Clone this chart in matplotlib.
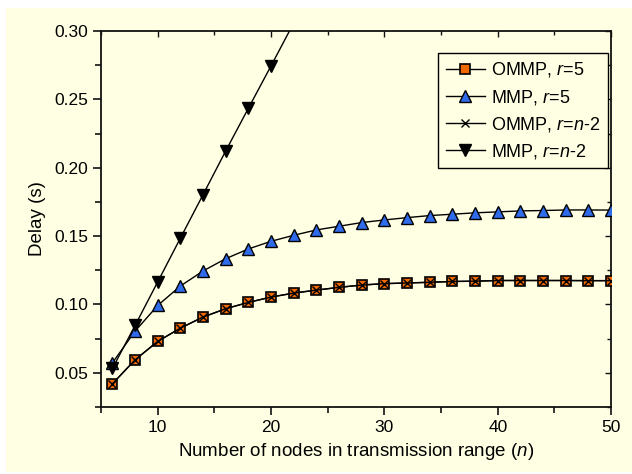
import numpy as np
import matplotlib.pyplot as plt
from matplotlib.patches import Rectangle
from matplotlib.ticker import MultipleLocator

plt.rcParams['font.family'] = ['Liberation Sans', 'DejaVu Sans']
plt.rcParams['mathtext.fontset'] = 'custom'
plt.rcParams['mathtext.rm'] = 'Liberation Sans'
plt.rcParams['mathtext.it'] = 'Liberation Sans:italic'

# number of nodes in transmission range
n = np.arange(6, 51, 2)

ommp_r5 = [0.042, 0.0595, 0.073, 0.0827, 0.0908, 0.0969, 0.1015, 0.1054,
           0.1083, 0.1105, 0.1125, 0.1142, 0.1152, 0.1157, 0.1162, 0.1168,
           0.1170, 0.1175, 0.1175, 0.1175, 0.1175, 0.1174, 0.1174]
mmp_r5 = [0.0573, 0.0805, 0.0993, 0.1135, 0.1245, 0.1335, 0.1406, 0.1462,
          0.1506, 0.1545, 0.1572, 0.1599, 0.1618, 0.1635, 0.1650, 0.1660,
          0.1670, 0.1677, 0.1684, 0.1687, 0.1691, 0.1691, 0.1690]
ommp_rn2 = ommp_r5
n_mmp_rn2 = np.arange(6, 23, 2)
mmp_rn2 = [0.0532, 0.0847, 0.1166, 0.1486, 0.1804, 0.2124, 0.2436, 0.2746,
           0.3060]

cream = '#FFFFE3'
fig = plt.figure(figsize=(6.32, 4.74), dpi=100, facecolor='white')
fig.patches.append(Rectangle((6 / 632, 0.004), 1, 0.98, transform=fig.transFigure,
                             facecolor=cream, edgecolor='none', zorder=-10))
ax = fig.add_axes([0.16, 0.1414, 0.807, 0.7932])
ax.set_facecolor(cream)

ax.plot(n, ommp_r5, '-s', color='black', lw=1, ms=6.5, mfc='#F06A00',
        mec='black', mew=1.2, label='OMMP, $r$=5', zorder=3)
ax.plot(n, mmp_r5, '-^', color='black', lw=1, ms=9, mfc='#2F6BEA',
        mec='black', mew=1, label='MMP, $r$=5', zorder=3)
ax.plot(n, ommp_rn2, '-x', color='black', lw=1, ms=5.5, mew=1,
        label='OMMP, $r$=$n$-2', zorder=4)
ax.plot(n_mmp_rn2, mmp_rn2, '-v', color='black', lw=1, ms=9, mfc='black',
        mec='black', label='MMP, $r$=$n$-2', zorder=3)

ax.set_xlim(5, 50)
ax.set_ylim(0.025, 0.30)
ax.xaxis.set_major_locator(MultipleLocator(10))
ax.xaxis.set_minor_locator(MultipleLocator(5))
ax.yaxis.set_major_locator(MultipleLocator(0.05))
ax.yaxis.set_minor_locator(MultipleLocator(0.025))
ax.yaxis.set_major_formatter(plt.FormatStrFormatter('%.2f'))

for s in ax.spines.values():
    s.set_linewidth(1.3)
    s.set_color('#111111')
ax.tick_params(which='both', direction='out', labelsize=12.5, width=1.2,
               colors='#111111', labelcolor='black')
ax.tick_params(which='major', length=6)
ax.tick_params(which='minor', length=4)

# inward ticks on top and right, no labels
top = ax.secondary_xaxis('top')
right = ax.secondary_yaxis('right')
top.xaxis.set_major_locator(MultipleLocator(10))
top.xaxis.set_minor_locator(MultipleLocator(5))
right.yaxis.set_major_locator(MultipleLocator(0.05))
right.yaxis.set_minor_locator(MultipleLocator(0.025))
for sec in (top, right):
    sec.spines[:].set_visible(False)
    sec.tick_params(which='both', direction='in', width=1, colors='#111111',
                    labelleft=False, labelright=False, labeltop=False,
                    labelbottom=False)
    sec.tick_params(which='major', length=4)
    sec.tick_params(which='minor', length=3)

ax.set_xlabel('Number of nodes in transmission range ($n$)', fontsize=13.5, labelpad=4)
ax.set_ylabel('Delay (s)', fontsize=13.5, labelpad=6)

leg = ax.legend(loc='upper right', bbox_to_anchor=(0.993, 0.941), fontsize=13,
                frameon=True, fancybox=False, edgecolor='black',
                facecolor=cream, framealpha=1, handlelength=2.2,
                handletextpad=0.3, labelspacing=0.45, borderpad=0.4,
                borderaxespad=0)
leg.get_frame().set_linewidth(1)

fig.savefig('out.png', dpi=100, facecolor='white')
